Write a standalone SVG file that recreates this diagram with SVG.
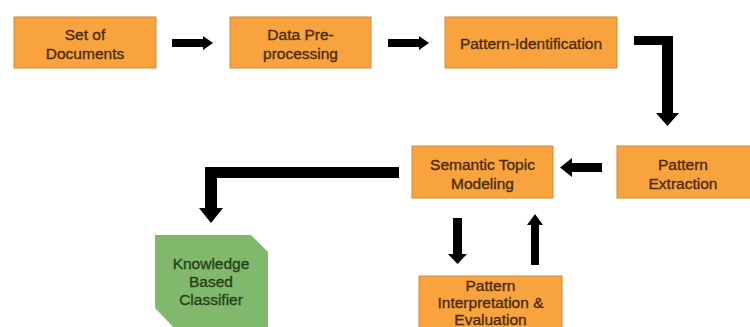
<svg xmlns="http://www.w3.org/2000/svg" width="750" height="327" viewBox="0 0 750 327">
  <style>
    .box { fill: #F8A33E; stroke: #C98B3C; stroke-width: 1; }
    .leaf { fill: #80B86C; }
    .lbl { font-family: "Liberation Sans", Arial, sans-serif; font-size: 15.5px; fill: #4A2C0C; stroke: #4A2C0C; stroke-width: 0.35; text-anchor: middle; }
    .lbl-g { font-family: "Liberation Sans", Arial, sans-serif; font-size: 15.5px; fill: #25421B; stroke: #25421B; stroke-width: 0.35; text-anchor: middle; }
    .arrow { fill: #000000; }
  </style>
  <rect width="750" height="327" fill="#FFFFFF"/>

  <!-- connectors: thick block arrows -->
  <g id="connectors" class="arrow">
    <!-- Set of Documents -> Data Pre-processing -->
    <polygon points="172,39 203,39 203,36 213,43 203,50 203,47 172,47"/>
    <!-- Data Pre-processing -> Pattern-Identification -->
    <polygon points="388,39 419,39 419,36 429,43 419,50 419,47 388,47"/>
    <!-- Pattern-Identification -> Pattern Extraction (elbow) -->
    <polygon points="634,36 673,36 673,113 679,113 667.5,126 656,113 662,113 662,45 634,45"/>
    <!-- Pattern Extraction -> Semantic Topic Modeling -->
    <polygon points="602,163 572,163 572,158 560,167.5 572,177 572,172 602,172"/>
    <!-- Semantic Topic Modeling -> Knowledge Based Classifier (elbow) -->
    <polygon points="399,167 205,167 205,208 199,208 211,223 223,208 217,208 217,178 399,178"/>
    <!-- Semantic Topic Modeling -> Pattern Interpretation -->
    <polygon points="453,218 462,218 462,254 467,254 457.5,264 448,254 453,254"/>
    <!-- Pattern Interpretation -> Semantic Topic Modeling -->
    <polygon points="531,265 539,265 539,225 543,225 535,214 527,225 531,225"/>
  </g>

  <g id="set-of-documents">
    <rect class="box" x="14" y="17" width="142" height="51"/>
    <text class="lbl" x="85" y="40">Set of</text>
    <text class="lbl" x="85" y="59">Documents</text>
  </g>

  <g id="data-preprocessing">
    <rect class="box" x="230" y="17" width="141" height="51"/>
    <text class="lbl" x="300.5" y="40">Data Pre-</text>
    <text class="lbl" x="300.5" y="59">processing</text>
  </g>

  <g id="pattern-identification">
    <rect class="box" x="445" y="17" width="172" height="51"/>
    <text class="lbl" x="531" y="49">Pattern-Identification</text>
  </g>

  <g id="pattern-extraction">
    <rect class="box" x="617" y="146" width="140" height="52"/>
    <text class="lbl" x="683" y="170">Pattern</text>
    <text class="lbl" x="683" y="189">Extraction</text>
  </g>

  <g id="semantic-topic-modeling">
    <rect class="box" x="412" y="146" width="141" height="52"/>
    <text class="lbl" x="482.5" y="170">Semantic Topic</text>
    <text class="lbl" x="482.5" y="189">Modeling</text>
  </g>

  <g id="pattern-interpretation">
    <rect class="box" x="419" y="276" width="143" height="60"/>
    <text class="lbl" x="490.5" y="291">Pattern</text>
    <text class="lbl" x="490.5" y="308">Interpretation &amp;</text>
    <text class="lbl" x="490.5" y="325">Evaluation</text>
  </g>

  <g id="knowledge-based-classifier">
    <polygon class="leaf" points="155,235 251,235 268,252 268,330 176,330 155,308"/>
    <text class="lbl-g" x="211" y="269">Knowledge</text>
    <text class="lbl-g" x="211" y="287">Based</text>
    <text class="lbl-g" x="211" y="305">Classifier</text>
  </g>
</svg>
